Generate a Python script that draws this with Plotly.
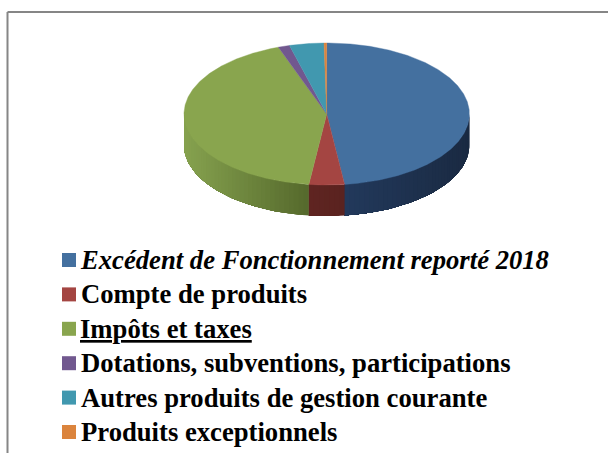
import math
import plotly.graph_objects as go

labels = ["Excédent de Fonctionnement reporté 2018", "Compte de produits", "Impôts et taxes",
          "Dotations, subventions, participations", "Autres produits de gestion courante",
          "Produits exceptionnels"]
shares = [48.0, 4.0, 42.5, 1.3, 3.9, 0.3]
top_colors = ["#44709F", "#A44542", "#89A54E", "#71588F", "#4198AF", "#DB843D"]
side_left = ["#22395C", "#5F2421", "#86A24F", "#3E2F50", "#245361", "#7A4820"]
side_right = ["#1A2A42", "#5A2320", "#55692C", "#3E2F50", "#245361", "#7A4820"]
legend_fmt = ["<b><i>{}</i></b>", "<b>{}</b>", "<b><span style='text-decoration:underline'>{}</span></b>",
              "<b>{}</b>", "<b>{}</b>", "<b>{}</b>"]
legend_shift = [-3.5, -2, -3, -2, -2, -2]

CX, CY, RX, RY, DEPTH = 326.7, 114, 142.7, 71, 31
LEG_Y0, LEG_DY = 260, 34.4


def pt(deg, dy=0.0):
    a = math.radians(deg)
    return CX + RX * math.sin(a), CY - RY * math.cos(a) + dy


def mix(c1, c2, f):
    v1 = [int(c1[i:i + 2], 16) for i in (1, 3, 5)]
    v2 = [int(c2[i:i + 2], 16) for i in (1, 3, 5)]
    return "#%02x%02x%02x" % tuple(round(a + (b - a) * f) for a, b in zip(v1, v2))


fig = go.Figure()


def poly(xs, ys, color, lw=0.0):
    fig.add_trace(go.Scatter(x=xs, y=ys, mode="lines", fill="toself", fillcolor=color,
                             line=dict(color=color, width=lw), hoverinfo="skip", showlegend=False))


total = sum(shares)
bounds = [0.0]
for s in shares:
    bounds.append(bounds[-1] + s / total * 360)

# Side wall: only the front half (90..270 deg) is visible; strips overlap to hide seams
for i in range(len(shares)):
    a0, a1 = max(bounds[i], 90), min(bounds[i + 1], 270)
    if a1 <= a0:
        continue
    n = max(1, int((a1 - a0) / 2))
    xr0 = pt(a0)[0]
    xr1 = pt(a1)[0]
    for k in range(n):
        s0 = a0 + (a1 - a0) * k / n
        s1 = a1
        steps = max(2, int((s1 - s0) / 2))
        arc = [pt(s0 + (s1 - s0) * j / steps) for j in range(steps + 1)]
        low = [pt(s1 - (s1 - s0) * j / steps, DEPTH) for j in range(steps + 1)]
        pts = arc + low + [arc[0]]
        f = (pt(s0 + (a1 - a0) / n / 2)[0] - xr1) / ((xr0 - xr1) or 1)
        poly([q[0] for q in pts], [q[1] for q in pts], mix(side_left[i], side_right[i], f))

# Top face
for i in range(len(shares)):
    a0, a1 = bounds[i], bounds[i + 1]
    n = max(2, int((a1 - a0) * 2))
    arc = [pt(a0 + (a1 - a0) * k / n) for k in range(n + 1)]
    poly([CX] + [q[0] for q in arc] + [CX], [CY] + [q[1] for q in arc] + [CY], top_colors[i], 0.4)

# Legend
for i, lab in enumerate(labels):
    y = LEG_Y0 + i * LEG_DY
    fig.add_trace(go.Scatter(x=[69], y=[y], mode="markers", hoverinfo="skip", showlegend=False,
                             marker=dict(symbol="square", size=14, color=top_colors[i], line=dict(width=0))))
    fig.add_annotation(x=81, y=y, xref="x", yref="y", xanchor="left", yanchor="middle", showarrow=False,
                       text=legend_fmt[i].format(lab), xshift=legend_shift[i],
                       font=dict(family="Liberation Serif", size=26.67, color="#000000"))

fig.update_layout(
    width=608, height=453, margin=dict(l=0, r=0, t=0, b=0),
    paper_bgcolor="white", plot_bgcolor="white", showlegend=False,
    xaxis=dict(range=[0, 608], visible=False, fixedrange=True),
    yaxis=dict(range=[453, 0], visible=False, fixedrange=True),
    shapes=[
        dict(type="line", xref="x", yref="y", x0=7.5, y0=12, x1=608, y1=12, line=dict(color="#868686", width=2)),
        dict(type="line", xref="x", yref="y", x0=7.5, y0=12, x1=7.5, y1=453, line=dict(color="#868686", width=2)),
    ],
)
fig.write_html("out.html", config={"displayModeBar": False},
               post_script="document.body.style.margin='0';document.body.style.overflow='hidden';")
